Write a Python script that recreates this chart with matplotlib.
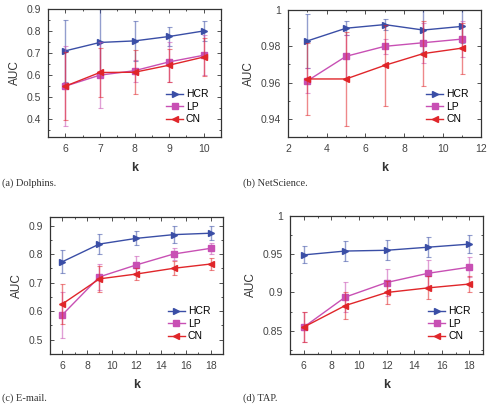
import matplotlib
matplotlib.use("Agg")
import matplotlib.pyplot as plt
from matplotlib.ticker import AutoMinorLocator

plt.rcParams['font.family'] = ['Liberation Sans', 'DejaVu Sans']

# (a) Dolphins
k_a = [6, 7, 8, 9, 10]
hcr_a = [0.710, 0.748, 0.755, 0.775, 0.800]
hcr_a_err = [0.140, 0.150, 0.090, 0.045, 0.045]
lp_a = [0.550, 0.600, 0.620, 0.660, 0.690]
lp_a_err = [0.180, 0.150, 0.050, 0.090, 0.090]
cn_a = [0.550, 0.612, 0.613, 0.645, 0.682]
cn_a_err = [0.155, 0.110, 0.100, 0.075, 0.085]

# (b) NetScience
k_b = [3, 5, 7, 9, 11]
hcr_b = [0.983, 0.990, 0.992, 0.989, 0.991]
hcr_b_err = [0.015, 0.004, 0.003, 0.012, 0.009]
lp_b = [0.961, 0.9745, 0.980, 0.982, 0.984]
lp_b_err = [0.007, 0.012, 0.004, 0.011, 0.010]
cn_b = [0.962, 0.962, 0.9695, 0.976, 0.979]
cn_b_err = [0.020, 0.026, 0.0225, 0.018, 0.014]

# (c) E-mail
k_c = [6, 9, 12, 15, 18]
hcr_c = [0.773, 0.835, 0.855, 0.868, 0.873]
hcr_c_err = [0.040, 0.035, 0.025, 0.030, 0.025]
lp_c = [0.587, 0.720, 0.762, 0.800, 0.820]
lp_c_err = [0.080, 0.045, 0.030, 0.022, 0.020]
cn_c = [0.625, 0.713, 0.730, 0.750, 0.765]
cn_c_err = [0.070, 0.045, 0.020, 0.025, 0.020]

# (d) TAP
k_d = [6, 9, 12, 15, 18]
hcr_d = [0.949, 0.954, 0.955, 0.959, 0.963]
hcr_d_err = [0.011, 0.013, 0.013, 0.013, 0.012]
lp_d = [0.855, 0.894, 0.913, 0.925, 0.933]
lp_d_err = [0.020, 0.020, 0.018, 0.017, 0.013]
cn_d = [0.855, 0.883, 0.900, 0.906, 0.911]
cn_d_err = [0.020, 0.018, 0.015, 0.015, 0.011]

captions = ["(a) Dolphins.", "(b) NetScience.", "(c) E-mail.", "(d) TAP."]

C_HCR = '#3a4ea6'
C_LP = '#c850b4'
C_CN = '#e0262a'

fig = plt.figure(figsize=(4.9, 4.04), dpi=100)

panels = [
    dict(rect=[0.098, 0.661, 0.353, 0.317], k=k_a, h=(hcr_a, hcr_a_err), l=(lp_a, lp_a_err), c=(cn_a, cn_a_err),
         xlim=(5.5, 10.5), ylim=(0.32, 0.9), xticks=[6, 7, 8, 9, 10], yticks=[0.4, 0.5, 0.6, 0.7, 0.8, 0.9],
         yfmt=lambda v: f"{v:.1f}", cap=(0.004, 0.547)),
    dict(rect=[0.588, 0.661, 0.394, 0.314], k=k_b, h=(hcr_b, hcr_b_err), l=(lp_b, lp_b_err), c=(cn_b, cn_b_err),
         xlim=(2, 12), ylim=(0.93, 1.0), xticks=[2, 4, 6, 8, 10, 12], yticks=[0.94, 0.96, 0.98, 1.0],
         yfmt=lambda v: "1" if v == 1.0 else f"{v:.2f}", cap=(0.495, 0.547)),
    dict(rect=[0.102, 0.124, 0.353, 0.339], k=k_c, h=(hcr_c, hcr_c_err), l=(lp_c, lp_c_err), c=(cn_c, cn_c_err),
         xlim=(5, 19), ylim=(0.45, 0.93), xticks=[6, 8, 10, 12, 14, 16, 18], yticks=[0.5, 0.6, 0.7, 0.8, 0.9],
         yfmt=lambda v: f"{v:.1f}", cap=(0.004, 0.014)),
    dict(rect=[0.592, 0.124, 0.394, 0.342], k=k_d, h=(hcr_d, hcr_d_err), l=(lp_d, lp_d_err), c=(cn_d, cn_d_err),
         xlim=(5, 19), ylim=(0.82, 1.0), xticks=[6, 8, 10, 12, 14, 16, 18], yticks=[0.85, 0.9, 0.95, 1.0],
         yfmt=lambda v: "1" if v == 1.0 else (f"{v:.1f}" if abs(v - 0.9) < 1e-9 else f"{v:.2f}"), cap=(0.495, 0.014)),
]

for i, p in enumerate(panels):
    ax = fig.add_axes(p['rect'])
    k = p['k']
    for (vals, errs), col, mk, lab in [(p['h'], C_HCR, '>', 'HCR'), (p['l'], C_LP, 's', 'LP'), (p['c'], C_CN, '<', 'CN')]:
        ax.errorbar(k, vals, yerr=errs, fmt='none', ecolor=col, alpha=0.55, elinewidth=1.0, capsize=1.8, capthick=0.8)
        ax.plot(k, vals, color=col, marker=mk, markersize=4.5, linewidth=1.0, label=lab)
    ax.set_xlim(*p['xlim'])
    ax.set_ylim(*p['ylim'])
    ax.set_xticks(p['xticks'])
    ax.set_xticklabels([str(t) for t in p['xticks']])
    ax.set_yticks(p['yticks'])
    ax.set_yticklabels([p['yfmt'](v) for v in p['yticks']])
    ax.xaxis.set_minor_locator(AutoMinorLocator(2))
    ax.yaxis.set_minor_locator(AutoMinorLocator(2))
    ax.tick_params(which='both', direction='in', top=True, right=True, labelsize=7.5, colors='#333333', width=0.6)
    ax.tick_params(which='major', length=3)
    ax.tick_params(which='minor', length=1.5)
    ax.tick_params(axis='both', which='major', pad=5, labelcolor='#444444')
    for s in ax.spines.values():
        s.set_linewidth(0.9)
        s.set_color('#333333')
    ax.set_ylabel('AUC', fontsize=8.5, color='#333333')
    ax.set_xlabel('k', fontsize=9, fontweight='bold', color='#333333', labelpad=6)
    ax.legend(loc='lower right', frameon=False, fontsize=7.5, handlelength=1.6, handletextpad=0.3,
              labelspacing=0.25, borderaxespad=0.8)
    fig.text(p['cap'][0], p['cap'][1], captions[i], fontsize=7.5, family=['Liberation Serif', 'DejaVu Serif'],
             color='#333333', ha='left', va='center')

fig.savefig('out.png', dpi=100)
